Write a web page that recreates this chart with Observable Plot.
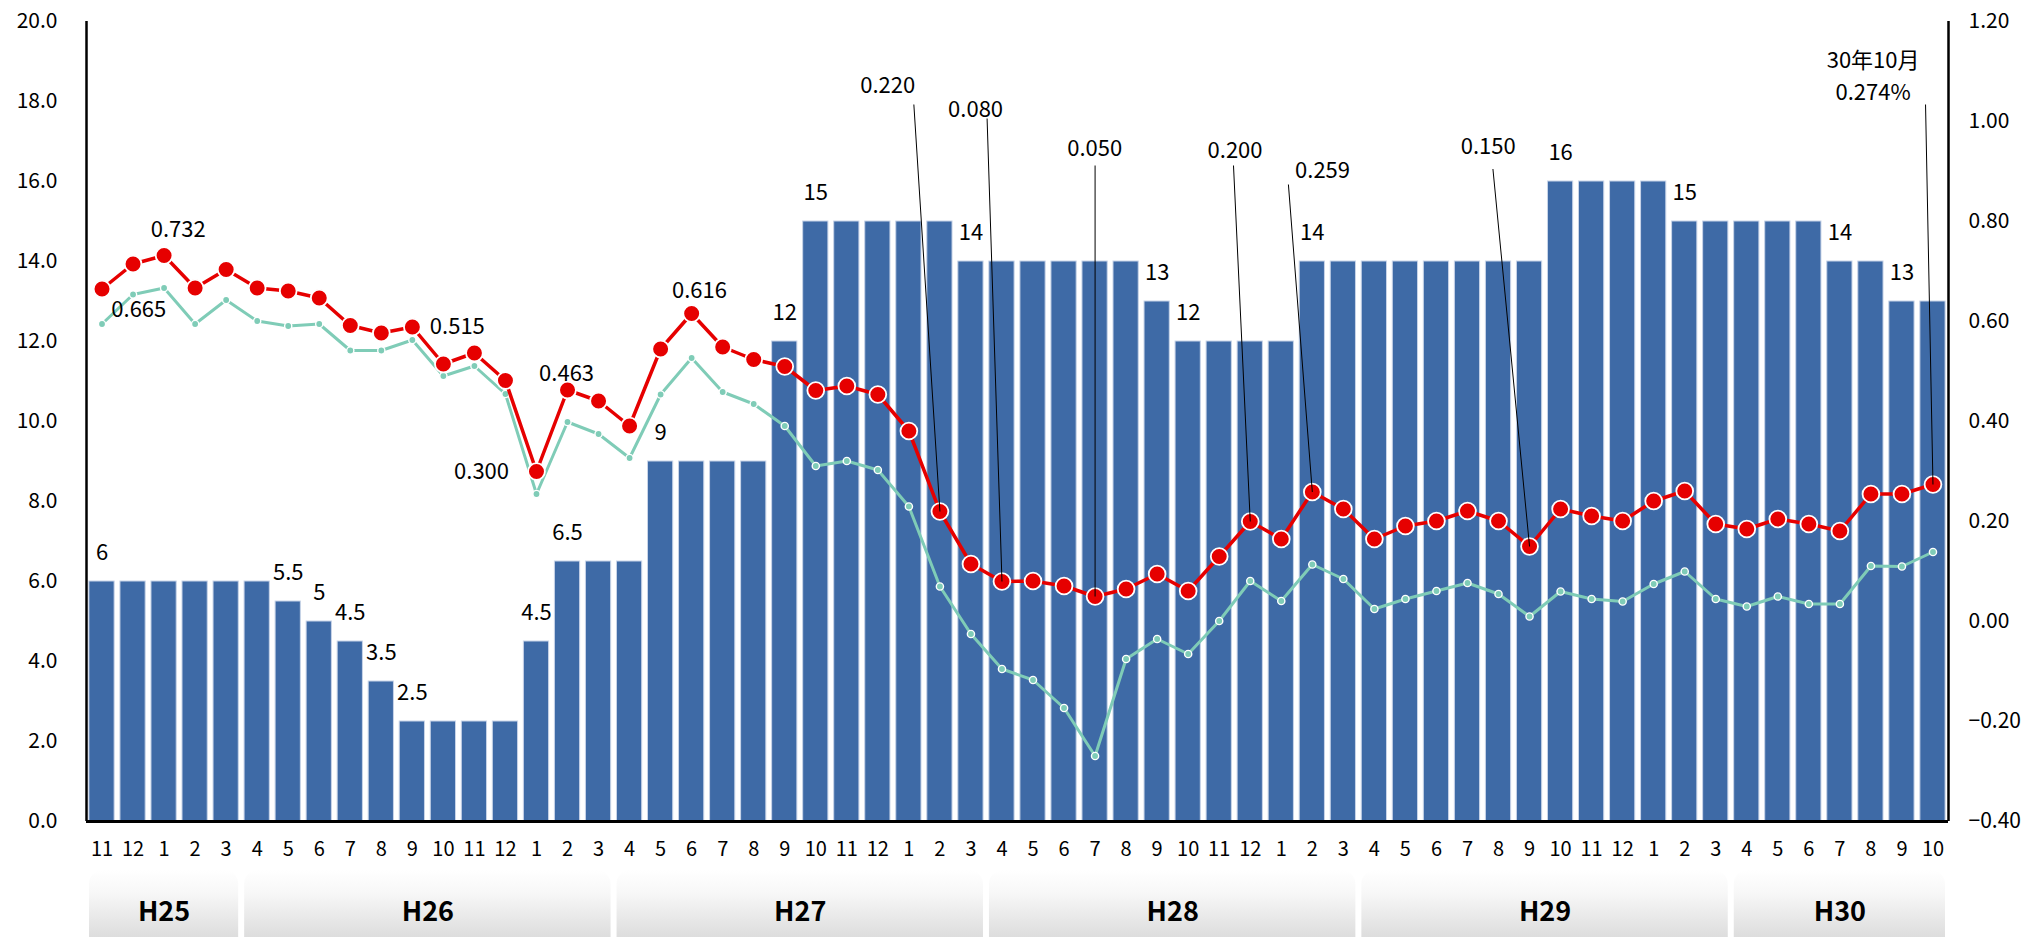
<!DOCTYPE html>
<html>
<head>
<meta charset="utf-8">
<script src="https://cdn.jsdelivr.net/npm/d3@7"></script>
<script src="https://cdn.jsdelivr.net/npm/@observablehq/plot@0.6"></script>
<style>
  html, body { margin: 0; padding: 0; background: #ffffff; }
  #chart { width: 2029px; height: 937px; overflow: hidden; }
</style>
</head>
<body>
<div id="chart"></div>
<script>
// ---- Data ----
const months = [11,12,1,2,3, 4,5,6,7,8,9,10,11,12,1,2,3, 4,5,6,7,8,9,10,11,12,1,2,3,
                4,5,6,7,8,9,10,11,12,1,2,3, 4,5,6,7,8,9,10,11,12,1,2,3, 4,5,6,7,8,9,10];
const fiscalYears = ["H25","H26","H27","H28","H29","H30"];

const barValues = [6,6,6,6,6,
  6,5.5,5,4.5,3.5,2.5,2.5,2.5,2.5,4.5,6.5,6.5,
  6.5,9,9,9,9,12,15,15,15,15,15,14,
  14,14,14,14,14,13,12,12,12,12,14,14,
  14,14,14,14,14,14,16,16,16,16,15,15,
  15,15,15,14,14,13,13];

const redValues = [0.665,0.715,0.732,0.667,0.704,
  0.667,0.661,0.647,0.592,0.577,0.589,0.515,0.537,0.482,0.300,0.463,0.441,
  0.391,0.545,0.616,0.549,0.524,0.510,0.462,0.471,0.454,0.381,0.220,0.115,
  0.080,0.081,0.071,0.050,0.065,0.095,0.061,0.130,0.200,0.165,0.259,0.225,
  0.165,0.191,0.201,0.221,0.201,0.150,0.225,0.211,0.201,0.241,0.261,0.195,
  0.185,0.205,0.195,0.181,0.255,0.255,0.274];

const tealValues = [0.595,0.654,0.667,0.595,0.643,
  0.601,0.591,0.595,0.542,0.542,0.563,0.491,0.511,0.455,0.255,0.399,0.375,
  0.327,0.454,0.527,0.459,0.435,0.391,0.311,0.321,0.303,0.230,0.070,-0.025,
  -0.095,-0.117,-0.173,-0.269,-0.075,-0.035,-0.065,0.001,0.081,0.041,0.114,0.085,
  0.025,0.045,0.061,0.077,0.055,0.010,0.060,0.045,0.040,0.075,0.100,0.045,
  0.030,0.050,0.035,0.035,0.111,0.110,0.139];

const leftTicks = [0,2,4,6,8,10,12,14,16,18,20];
const rightTicks = [-0.4,-0.2,0,0.2,0.4,0.6,0.8,1.0,1.2];

// which red points carry a value callout
const calloutIndex = [0,2,11,14,15,19,27,29,32,37,39,46,59];

// ---- Annotation layout (label anchor positions in data units: month index / right-axis value) ----
const calloutLayout = {
  0:  {tx: 1.185, ty: 0.630},
  2:  {tx: 2.455, ty: 0.789},
  11: {tx: 11.45, ty: 0.596},
  14: {tx: 12.23, ty: 0.305},
  15: {tx: 14.97, ty: 0.502},
  19: {tx: 19.25, ty: 0.667},
  27: {tx: 25.32, ty: 1.077, lx: 26.16, ly: 1.034},
  29: {tx: 28.15, ty: 1.029, lx: 28.52, ly: 1.006},
  32: {tx: 31.99, ty: 0.952, lx: 32.00, ly: 0.912},
  37: {tx: 36.51, ty: 0.947, lx: 36.46, ly: 0.912},
  39: {tx: 39.33, ty: 0.907, lx: 38.23, ly: 0.874},
  46: {tx: 44.67, ty: 0.955, lx: 44.82, ly: 0.905},
  59: {tx: 57.07, ty: 1.096, lx: 58.76, ly: 1.034, prefix: "30年10月\n", suffix: "%"}
};

// ---- Derived tables ----
const RMIN = -0.4, RMAX = 1.2, LMAX = 20;
const toL = v => (v - RMIN) / (RMAX - RMIN) * LMAX;
const fromL = v => v / LMAX * (RMAX - RMIN) + RMIN;
const fmtR = v => (Math.abs(v) < 1e-9 ? 0 : v).toFixed(2).replace("-", "\u2212");

const rows = months.map((m, i) => ({i, m, bar: barValues[i], red: redValues[i], teal: tealValues[i]}));
const barLabels = rows.filter((d, i) => i === 0 || d.bar !== rows[i - 1].bar);

const groups = [];
rows.forEach((d, i) => {
  if (i === 0 || d.m === 4) groups.push({label: fiscalYears[groups.length], start: i, end: i});
  else groups[groups.length - 1].end = i;
});

const callouts = calloutIndex.map(i => {
  const L = calloutLayout[i];
  return {
    i, tx: L.tx, ty: L.ty, lx: L.lx, ly: L.ly,
    text: (L.prefix || "") + redValues[i].toFixed(3) + (L.suffix || "")
  };
});
const leaders = callouts.filter(d => d.lx != null);

const FONT = "'Noto Sans CJK JP', 'Noto Sans', sans-serif";

const chart = Plot.plot({
  width: 2029,
  height: 937,
  marginLeft: 86,
  marginRight: 81,
  marginTop: 21,
  marginBottom: 116,
  style: {fontFamily: FONT, background: "white", color: "black", overflow: "visible"},
  x: {type: "linear", domain: [-0.5, 59.5]},
  y: {domain: [0, 20]},
  marks: [
    // fiscal-year boxes
    Plot.rect(groups, {
      x1: d => d.start - 0.5, x2: d => d.end + 0.5,
      y1: -1.225, y2: -3.6,
      insetLeft: 3, insetRight: 3, rx: 14,
      fill: "url(#fyGrad)"
    }),
    Plot.text(groups, {
      x: d => (d.start + d.end) / 2, y: 0, dy: 91,
      text: "label", fontSize: 27, fontWeight: "bold", fill: "black"
    }),
    // bars
    Plot.rectY(rows, {
      x1: d => d.i - 0.5, x2: d => d.i + 0.5, y: "bar",
      insetLeft: 2.9, insetRight: 2.9,
      fill: "#3e6aa6", stroke: "#c8d4e8", strokeWidth: 1
    }),
    // axes
    Plot.axisY(leftTicks, {
      anchor: "left", tickSize: 0, tickPadding: 29,
      tickFormat: d => d.toFixed(1), fontSize: 21, label: null
    }),
    Plot.axisY(rightTicks.map(toL), {
      anchor: "right", tickSize: 0, tickPadding: 20,
      tickFormat: d => fmtR(fromL(d)), fontSize: 21, label: null
    }),
    Plot.axisX(rows.map(d => d.i), {
      anchor: "bottom", tickSize: 0, tickPadding: 20,
      tickFormat: i => String(months[i]), fontSize: 20, label: null
    }),
    Plot.ruleX([-0.5, 59.5], {y1: 0, y2: 20, stroke: "black", strokeWidth: 2.5}),
    Plot.ruleY([0], {x1: -0.5, x2: 59.5, stroke: "black", strokeWidth: 3}),
    // teal series
    Plot.lineY(rows, {x: "i", y: d => toL(d.teal), stroke: "#7fccb7", strokeWidth: 3}),
    Plot.dot(rows, {x: "i", y: d => toL(d.teal), r: 3.6, fill: "#7fccb7", stroke: "white", strokeWidth: 1.4}),
    // red series
    Plot.lineY(rows, {x: "i", y: d => toL(d.red), stroke: "#e60000", strokeWidth: 3.5}),
    Plot.dot(rows, {x: "i", y: d => toL(d.red), r: 8.4, fill: "#e60000", stroke: "white", strokeWidth: 1.8}),
    // leader lines
    Plot.link(leaders, {
      x1: "lx", y1: d => toL(d.ly),
      x2: "i", y2: d => toL(redValues[d.i]),
      stroke: "black", strokeWidth: 1
    }),
    // callout labels
    Plot.text(callouts, {
      x: "tx", y: d => toL(d.ty), text: "text",
      fontSize: 22, lineHeight: 1.48, fill: "black"
    }),
    // bar value labels
    Plot.text(barLabels, {
      x: "i", y: "bar", dy: -29, text: d => String(d.bar),
      fontSize: 22, fill: "black"
    })
  ]
});

const svg = chart.tagName.toLowerCase() === "svg" ? chart : chart.querySelector("svg");
const defs = document.createElementNS("http://www.w3.org/2000/svg", "defs");
defs.innerHTML = '<linearGradient id="fyGrad" x1="0" y1="0" x2="0" y2="1">' +
  '<stop offset="0" stop-color="#ffffff"/><stop offset="0.25" stop-color="#f7f7f7"/>' +
  '<stop offset="1" stop-color="#cccccc"/></linearGradient>';
svg.insertBefore(defs, svg.firstChild);

document.getElementById("chart").appendChild(chart);
</script>
</body>
</html>
